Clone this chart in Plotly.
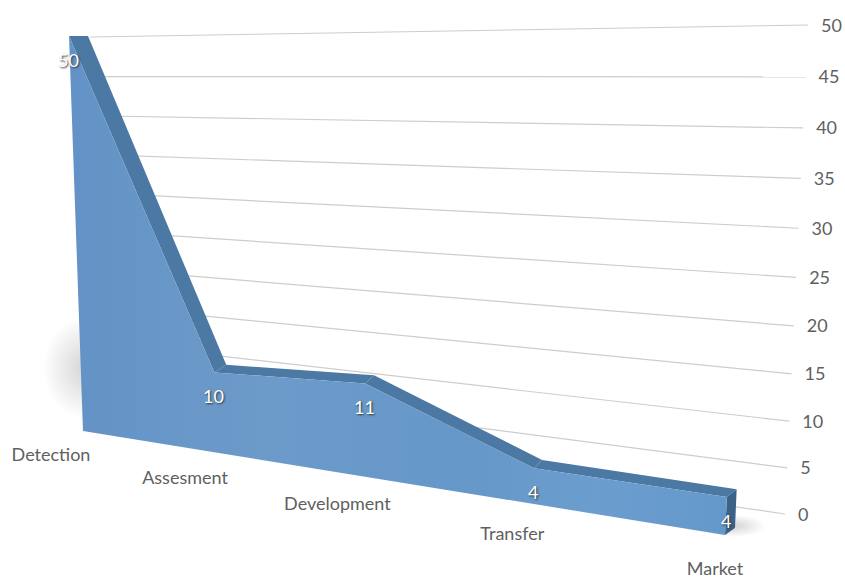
import numpy as np
import plotly.graph_objects as go

categories = ["Detection", "Assesment", "Development", "Transfer", "Market"]
values = [50, 10, 11, 4, 4]
axis_ticks = [0, 5, 10, 15, 20, 25, 30, 35, 40, 45, 50]
value_max = 50

# Perspective planes of the 3-D chart: screen corners for
# (first category, 0), (last category, 0), (last category, max), (first category, max)
FRONT = [(83, 431), (725, 535), (750, 30), (69, 36)]
BACK = [(98, 423), (735, 528), (757, 20), (88, 36)]
WALL = [(107, 415.5), (785, 514), (808, 25), (90, 37)]
LABELS = [(51, 456), (715, 570), (735, 50), (37, 62)]


def project(plane, cat, val):
    (x0, y0), (x1, y1), (x2, y2), (x3, y3) = plane
    u = np.asarray(cat, float) / (len(categories) - 1)
    v = np.asarray(val, float) / value_max
    dx1, dx2, sx = x1 - x2, x3 - x2, x0 - x1 + x2 - x3
    dy1, dy2, sy = y1 - y2, y3 - y2, y0 - y1 + y2 - y3
    den = dx1 * dy2 - dx2 * dy1
    g = (sx * dy2 - dx2 * sy) / den
    h = (dx1 * sy - sx * dy1) / den
    w = g * u + h * v + 1
    return (((x1 - x0 + g * x1) * u + (x3 - x0 + h * x3) * v + x0) / w,
            ((y1 - y0 + g * y1) * u + (y3 - y0 + h * y3) * v + y0) / w)


idx = np.arange(len(categories))
vals = np.array(values, float)
last = idx[-1]
fig = go.Figure()


def poly(xs, ys, color, **kw):
    fig.add_trace(go.Scatter(x=list(xs), y=list(ys), mode="lines", fill="toself", fillcolor=color,
                             line=dict(width=0, color=color), hoverinfo="skip", showlegend=False, **kw))


# soft shadows on the floor, built up from faint nested ellipses
theta = np.linspace(0, 2 * np.pi, 41)
for k in np.linspace(1.0, 0.1, 14):
    poly(88 + 44 * k * np.cos(theta), 368 + 50 * k * np.sin(theta), "rgba(80,80,80,0.015)")
    poly(733 + 32 * k * np.cos(theta), 526 + 11 * k * np.sin(theta), "rgba(80,80,80,0.014)")

# gridlines on the back wall
for t in axis_ticks:
    gx, gy = project(WALL, [0, last], [t, t])
    fig.add_trace(go.Scatter(x=gx, y=gy, mode="lines", line=dict(color="#cdcdcd", width=1.2),
                             hoverinfo="skip", showlegend=False))

# top band of the area, one facet per category step
for i in idx[:-1]:
    fx, fy = project(FRONT, [i, i + 1], vals[[i, i + 1]])
    bx, by = project(BACK, [i, i + 1], vals[[i, i + 1]])
    poly([fx[0], fx[1], bx[1], bx[0]], [fy[0], fy[1], by[1], by[0]], "#4c78a4")

# end cap of the area
fx, fy = project(FRONT, [last, last], [vals[-1], 0])
bx, by = project(BACK, [last, last], [vals[-1], 0])
poly([fx[0], bx[0], bx[1], fx[1]], [fy[0], by[0], by[1], fy[1]], "#3d6288")

# front face of the area
tx, ty = project(FRONT, idx, vals)
ex, ey = project(FRONT, [last, 0], [0, 0])
fig.add_trace(go.Scatter(
    x=list(tx) + list(ex), y=list(ty) + list(ey), mode="lines", fill="toself",
    line=dict(width=0),
    fillgradient=dict(type="horizontal", colorscale=[[0, "#6392c6"], [0.3, "#6c9bca"], [0.6, "#6597c9"],
                                                     [0.8, "#6c9dcf"], [1, "#6498cb"]]),
    hoverinfo="skip", showlegend=False))

# value axis labels at the right end of the gridlines
ax, ay = project(WALL, [last] * len(axis_ticks), axis_ticks)
fig.add_trace(go.Scatter(x=ax + 13, y=ay + 2, mode="text", text=[str(t) for t in axis_ticks],
                         textposition="middle right", textfont=dict(family="Lato", size=18, color="#5f5f5f"),
                         hoverinfo="skip", showlegend=False))

# category labels
cx, cy = project(LABELS, idx, [0] * len(idx))
fig.add_trace(go.Scatter(x=cx, y=cy, mode="text", text=categories, textposition="middle center",
                         textfont=dict(family="Lato", size=18, color="#5f5f5f"),
                         hoverinfo="skip", showlegend=False))

# data labels
for x, y, v in zip(tx, ty, values):
    fig.add_annotation(x=x, y=y, text=str(v), showarrow=False, yshift=-24, xshift=-1,
                       font=dict(family="Lato", size=18, color="white", shadow="1px 1px 2px #333333"))

fig.update_layout(
    width=845, height=577, margin=dict(l=0, r=0, t=0, b=0),
    paper_bgcolor="white", plot_bgcolor="white", showlegend=False,
    xaxis=dict(range=[0, 845], visible=False, fixedrange=True),
    yaxis=dict(range=[577, 0], visible=False, fixedrange=True),
)
fig.write_html("out.html", config=dict(displayModeBar=False),
               post_script="document.body.style.margin='0';")
